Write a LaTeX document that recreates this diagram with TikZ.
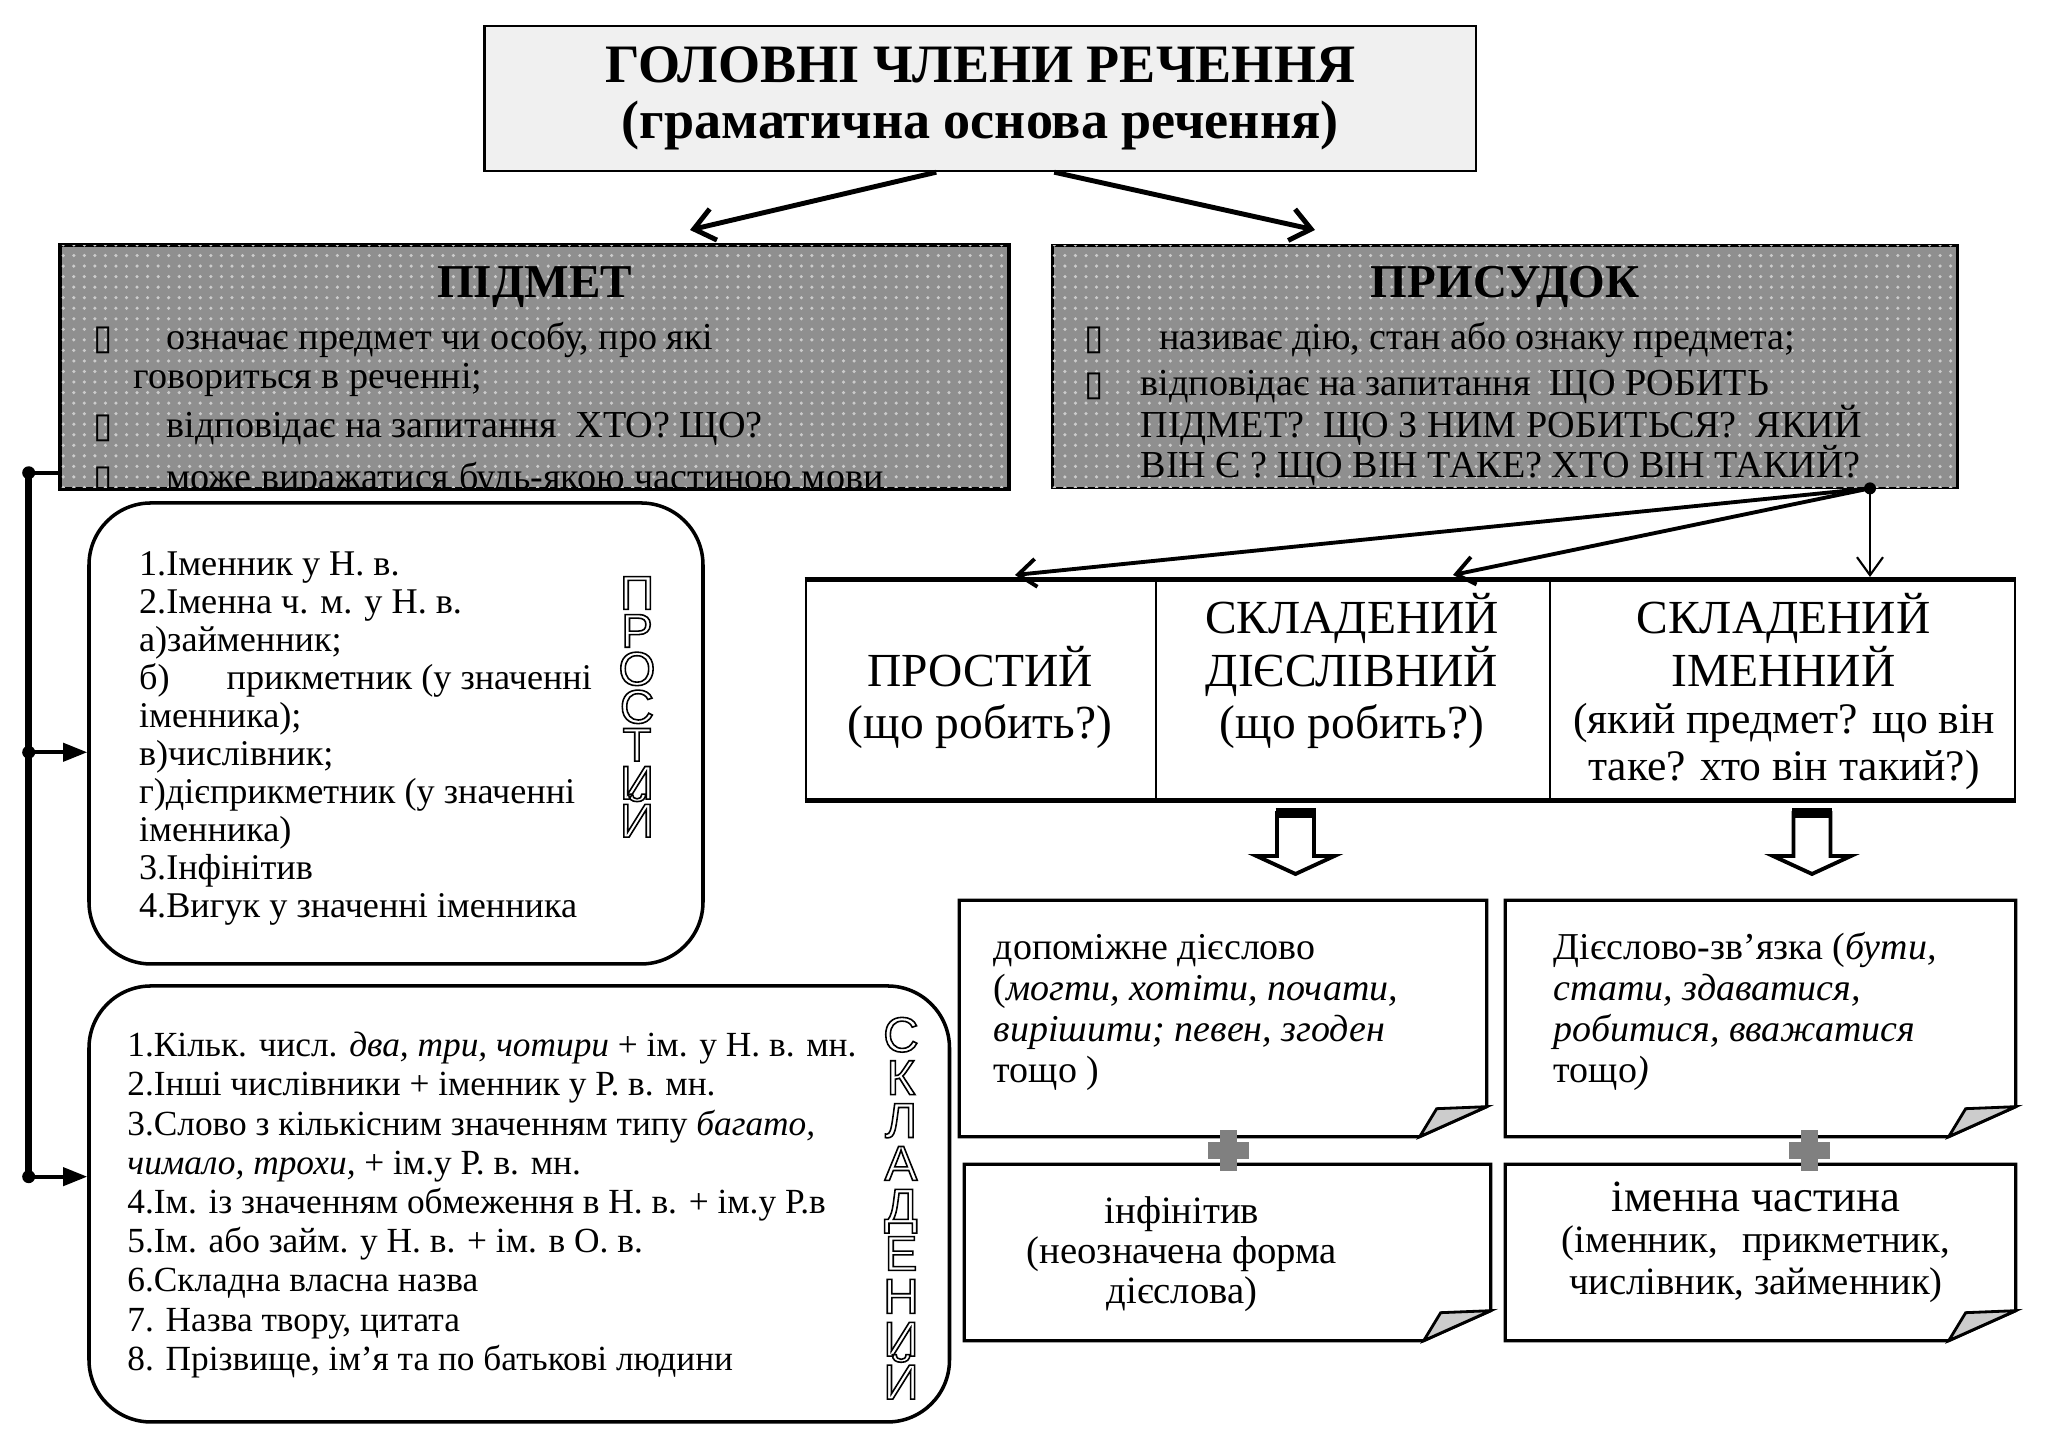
\documentclass[tikz,border=0pt]{standalone}
\usepackage{fontspec}
\setmainfont{Liberation Serif}
\newfontfamily\outlinefont{Liberation Sans}
\newfontfamily\symbolfont{DejaVu Sans}
\usetikzlibrary{arrows.meta, positioning, calc, patterns}
\definecolor{titlegray}{gray}{0.94}
\definecolor{boxgray}{gray}{0.56}
\definecolor{dotgray}{gray}{0.80}
\definecolor{flapgray}{gray}{0.80}
\definecolor{plusgray}{gray}{0.50}
\newcommand{\tofu}{{\symbolfont\fontsize{10}{10}\selectfont\char"25AF}}
\newcommand{\hollowletter}[1]{\special{pdf:literal direct 1 Tr 0.45 w}#1\special{pdf:literal direct 0 Tr}}
\newcommand{\foldedbox}[1]{%
  \draw[line width=0.9pt] (#1.north west) -- (#1.south west)
    -- ($(#1.south east)+(-0.67,0)$) -- ($(#1.south east)+(0,0.30)$)
    -- (#1.north east) -- cycle;
  \filldraw[fill=flapgray, line width=0.8pt] ($(#1.south east)+(-0.67,0)$)
    -- ($(#1.south east)+(-0.50,0.28)$) -- ($(#1.south east)+(0,0.30)$) -- cycle;}
\newcommand{\hollowdown}[1]{%
  \draw[line width=1.1pt, fill=white]
    ($(#1)+(-0.185,0)$) -- ++(0,-0.43) -- ++(-0.205,0) -- ($(#1)+(0,-0.61)$)
    -- ($(#1)+(0.39,-0.43)$) -- ++(-0.205,0) -- ($(#1)+(0.185,0)$) -- cycle;
  \draw[line width=2.6pt] ($(#1)+(-0.2,0)$) -- ($(#1)+(0.2,0)$);}
\newcommand{\plusmark}[1]{%
  \fill[plusgray] ($(#1)+(-0.205,-0.085)$) rectangle ($(#1)+(0.205,0.085)$);
  \fill[plusgray] ($(#1)+(-0.085,-0.205)$) rectangle ($(#1)+(0.085,0.205)$);}

\begin{document}
\begin{tikzpicture}[>=Stealth,
  every node/.style={inner sep=0pt},
  titlebox/.style={draw, line width=0.7pt, fill=titlegray, align=center,
    font=\bfseries\fontsize{15.4}{16.1}\selectfont},
  graybox/.style={draw, line width=0.8pt, fill=boxgray,
    postaction={pattern=dots, pattern color=dotgray}},
  heading/.style={anchor=base, font=\bfseries\fontsize{13.4}{14}\selectfont},
  bullet/.style={anchor=base},
  btxt/.style={anchor=base west, font=\fontsize{10.85}{12}\selectfont},
  roundbox/.style={draw, line width=1pt, rounded corners=0.62cm},
  ltxt/.style={anchor=base west, font=\fontsize{10.3}{12}\selectfont},
  vword/.style={anchor=north, align=center},
  cell/.style={draw, line width=0.8pt, minimum height=2.18cm},
  ctxt/.style={anchor=base, font=\fontsize{13.5}{15}\selectfont},
  ftxt/.style={anchor=base west, font=\fontsize{10.8}{12}\selectfont},
  gtxt/.style={anchor=base, font=\fontsize{11}{12}\selectfont},
  bold arrow/.style={line width=1.4pt, -{Straight Barb[length=2mm,width=3.2mm]}},
  fan arrow/.style={line width=1.1pt, -{Straight Barb[length=1.8mm,width=2.8mm]}},
  side arrow/.style={line width=1.1pt, -{Triangle[length=2.4mm,width=1.8mm]}}]
\useasboundingbox (0,0) rectangle (20.48,14.47);

% title
\node[titlebox, minimum width=9.915cm, minimum height=1.45cm] (title) at (9.8025,13.485)
  {ГОЛОВНІ ЧЛЕНИ РЕЧЕННЯ\\(граматична основа речення)};
\coordinate (tl) at ($(title.south)+(-0.44,0)$);
\coordinate (tr) at ($(title.south)+(0.74,0)$);
\coordinate (tlend) at (6.90,12.17);
\coordinate (trend) at (13.15,12.17);
\draw[bold arrow] (tl) -- (tlend);
\draw[bold arrow] (tr) -- (trend);

% subject box
\node[graybox, minimum width=9.47cm, minimum height=2.425cm] (pidmet) at (5.345,10.8025) {};
\node[heading] (pidmethead) at ($(pidmet.north)+(0,-0.538)$) {ПІДМЕТ};
\begin{scope}
  \clip (pidmet.south west) rectangle (pidmet.north east);
  \node[bullet] (pb1) at (1.03,10.97) {\tofu};
  \node[bullet] (pb2) at (1.03,10.09) {\tofu};
  \node[bullet] (pb3) at (1.03,9.57) {\tofu};
  \node[btxt] (pt1) at (1.66,10.97) {означає предмет чи особу, про які};
  \node[btxt] (pt2) at (1.33,10.58) {говориться в реченні;};
  \node[btxt] (pt3) at (1.66,10.09) {відповідає на запитання\ \ ХТО? ЩО?};
  \node[btxt] (pt4) at (1.66,9.57) {може виражатися будь-якою частиною мови};
\end{scope}
\draw[line width=0.8pt] (pidmet.south west) rectangle (pidmet.north east);

% predicate box
\node[graybox, minimum width=9.051cm, minimum height=2.425cm] (prysudok) at (15.0515,10.8025) {};
\node[heading] (prysudokhead) at ($(prysudok.north)+(0,-0.538)$) {ПРИСУДОК};
\node[bullet] (qb1) at (10.944,10.97) {\tofu};
\node[bullet] (qb2) at (10.944,10.51) {\tofu};
\node[btxt] (qt1) at (11.584,10.97) {називає дію, стан або ознаку предмета;};
\node[btxt] (qt2) at (11.40,10.51) {відповідає на запитання\ \ ЩО РОБИТЬ};
\node[btxt] (qt3) at (11.40,10.09) {ПІДМЕТ?\ \ ЩО З НИМ РОБИТЬСЯ?\ \ ЯКИЙ};
\node[btxt] (qt4) at (11.40,9.69) {ВІН Є ? ЩО ВІН ТАКЕ? ХТО ВІН ТАКИЙ?};

% fan of arrows to the table
\coordinate (pdot) at (18.70,9.586);
\coordinate (fanA) at (10.15,8.72);
\coordinate (fanB) at (14.53,8.72);
\coordinate (fanC) at (18.70,8.70);
\fill (pdot) circle (0.06);
\draw[fan arrow] (pdot) -- (fanA);
\draw[fan arrow] (pdot) -- (fanB);
\draw[line width=0.6pt, -{Straight Barb[length=1.8mm,width=2.6mm]}] (pdot) -- (fanC);

% table of predicate kinds
\node[cell, minimum width=3.5cm] (simple) at (9.81,7.57) {};
\node[cell, minimum width=3.94cm] (verbal) at (13.53,7.57) {};
\node[cell, minimum width=4.65cm] (nominal) at (17.825,7.57) {};
\draw[line width=1.2pt] (simple.north west) -- (nominal.north east);
\draw[line width=1.6pt] (simple.south west) -- (nominal.south east);
\node[ctxt] (s1) at (9.80,7.603) {ПРОСТИЙ};
\node[ctxt] (s2) at (9.80,7.087) {(що робить?)};
\node[ctxt] (v1) at (13.52,8.137) {СКЛАДЕНИЙ};
\node[ctxt] (v2) at (13.52,7.603) {ДІЄСЛІВНИЙ};
\node[ctxt] (v3) at (13.52,7.087) {(що робить?)};
\node[ctxt] (n1) at (17.835,8.137) {СКЛАДЕНИЙ};
\node[ctxt] (n2) at (17.835,7.603) {ІМЕННИЙ};
\node[ctxt, font=\fontsize{12.4}{14}\selectfont] (n3) at (17.84,7.13) {(який предмет? що він};
\node[ctxt, font=\fontsize{12.4}{14}\selectfont] (n4) at (17.84,6.663) {таке? хто він такий?)};

% hollow arrows
\coordinate (harA) at (12.955,6.34);
\coordinate (harB) at (18.12,6.34);
\hollowdown{harA}
\hollowdown{harB}

% sheets with folded corner
\node[minimum width=5.26cm, minimum height=2.35cm] (aux) at (12.23,4.285) {};
\node[minimum width=5.09cm, minimum height=2.35cm] (link) at (17.605,4.285) {};
\node[minimum width=5.25cm, minimum height=1.75cm] (inf) at (12.275,1.945) {};
\node[minimum width=5.09cm, minimum height=1.75cm] (nompart) at (17.605,1.945) {};
\foldedbox{aux}
\foldedbox{link}
\foldedbox{inf}
\foldedbox{nompart}
\foreach \row [count=\i] in {{допоміжне дієслово},
    {(\textit{могти, хотіти, почати,}},
    {\textit{вирішити; певен, згоден}},
    {тощо )}}
  \node[ftxt] (a\i) at (9.93,{4.87-(\i-1)*0.41}) {\row};
\foreach \row [count=\i] in {{Дієслово-зв’язка (\textit{бути,}},
    {\textit{стати, здаватися,}},
    {\textit{робитися, вважатися}},
    {тощо\textit{)}}}
  \node[ftxt] (z\i) at (15.53,{4.87-(\i-1)*0.41}) {\row};
\node[gtxt] (f1) at (11.82,2.237) {інфінітив};
\node[gtxt] (f2) at (11.82,1.83) {(неозначена форма};
\node[gtxt] (f3) at (11.82,1.437) {дієслова)};
\node[gtxt, font=\fontsize{12.7}{14}\selectfont] (m1) at (17.56,2.353) {іменна частина};
\node[gtxt] (m2) at (17.56,1.94) {(іменник,\hspace{7pt}прикметник,};
\node[gtxt] (m3) at (17.56,1.52) {числівник, займенник)};
\coordinate (plusA) at (12.28,2.96);
\coordinate (plusB) at (18.09,2.96);
\plusmark{plusA}
\plusmark{plusB}

% rounded boxes of subject kinds
\node[roundbox, minimum width=6.14cm, minimum height=4.61cm] (rsimple) at (3.96,7.135) {};
\node[roundbox, minimum width=8.605cm, minimum height=4.36cm] (rcompound) at (5.1925,2.43) {};
\foreach \row [count=\i] in {{1.Іменник у Н. в.},
    {2.Іменна ч. м. у Н. в.},
    {а)займенник;},
    {\makebox[0.876cm][l]{б)}прикметник (у значенні},
    {іменника);},
    {в)числівник;},
    {г)дієприкметник (у значенні},
    {іменника)},
    {3.Інфінітив},
    {4.Вигук у значенні іменника}}
  \node[ltxt] (pl\i) at (1.384,{8.71-(\i-1)*0.38}) {\row};
\foreach \row [count=\i] in {{1.Кільк. числ. \textit{два, три, чотири} + ім. у Н. в. мн.},
    {2.Інші числівники + іменник у Р. в. мн.},
    {3.Слово з кількісним значенням типу \textit{багато,}},
    {\textit{чимало, трохи,} + ім.у Р. в. мн.},
    {4.Ім. із значенням обмеження в Н. в. + ім.у Р.в},
    {5.Ім. або займ. у Н. в. + ім. в О. в.},
    {6.Складна власна назва},
    {7. Назва твору, цитата},
    {8. Прізвище, ім{\char"0027}я та по батькові людини}}
  \node[ltxt, font=\fontsize{10.05}{12}\selectfont] (sl\i) at (1.267,{3.903-(\i-1)*0.392}) {\row};
\node[vword, font=\outlinefont\fontsize{13.5}{10.8}\selectfont] (vsimple) at (6.37,8.71)
  {\hollowletter{П\\Р\\О\\С\\Т\\И\\\smash{Й}}};
\node[vword, font=\outlinefont\fontsize{14}{12.2}\selectfont] (vcompound) at (9.01,4.303)
  {\hollowletter{С\\К\\Л\\А\\Д\\Е\\Н\\И\\\smash{Й}}};

% bracket on the left
\coordinate (dotA) at (0.287,9.742);
\coordinate (dotB) at (0.287,6.947);
\coordinate (dotC) at (0.287,2.703);
\draw[line width=1.9pt] (dotA) -- (dotC);
\draw[line width=1.1pt] (dotA) -- (dotA -| pidmet.west);
\draw[side arrow] (dotB) -- (dotB -| rsimple.west);
\draw[side arrow] (dotC) -- (dotC -| rcompound.west);
\foreach \d in {dotA,dotB,dotC}
  \fill (\d) circle (0.065);
\end{tikzpicture}
\end{document}
